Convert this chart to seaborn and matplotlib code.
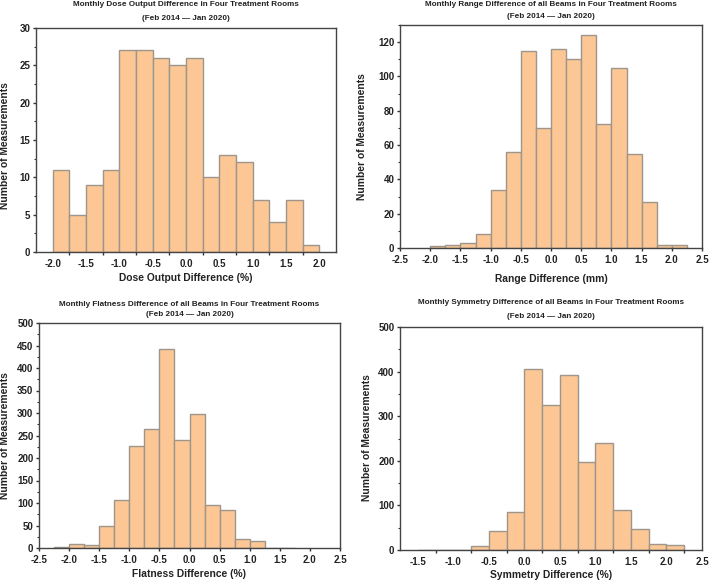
import numpy as np
import pandas as pd
import matplotlib.pyplot as plt
import seaborn as sns
from matplotlib.ticker import MultipleLocator, FormatStrFormatter, FixedLocator

# bin left edges (width 0.25) and counts
dose_left = [-2.0, -1.75, -1.5, -1.25, -1.0, -0.75, -0.5, -0.25, 0.0, 0.25, 0.5, 0.75, 1.0, 1.25, 1.5, 1.75]
dose_counts = [11, 5, 9, 11, 27, 27, 26, 25, 26, 10, 13, 12, 7, 4, 7, 1]

range_left = [-2.0, -1.75, -1.5, -1.25, -1.0, -0.75, -0.5, -0.25, 0.0, 0.25, 0.5, 0.75, 1.0, 1.25, 1.5, 1.75, 2.0]
range_counts = [1, 2, 3, 8, 34, 56, 115, 70, 116, 110, 124, 72, 105, 55, 27, 2, 2]

flat_left = [-2.25, -2.0, -1.75, -1.5, -1.25, -1.0, -0.75, -0.5, -0.25, 0.0, 0.25, 0.5, 0.75, 1.0, 1.25, 1.5]
flat_counts = [2, 10, 7, 48, 106, 227, 265, 443, 240, 298, 95, 84, 19, 16, 1, 1]

sym_left = [-1.5, -1.25, -1.0, -0.75, -0.5, -0.25, 0.0, 0.25, 0.5, 0.75, 1.0, 1.25, 1.5, 1.75, 2.0]
sym_counts = [1, 0, 1, 10, 43, 86, 406, 324, 393, 197, 241, 90, 48, 14, 12]

WIDTH = 0.25
FILL = "#FCC794"
EDGE = "#9E958C"
TXT = "#222222"

sns.set_theme(style="white")
plt.rcParams['font.family'] = ['Liberation Sans', 'DejaVu Sans']
plt.rcParams['font.weight'] = 'bold'

fig = plt.figure(figsize=(7.09, 5.82), dpi=100)
W, H = 709, 582


def make_ax(l, t, r, b):
    return fig.add_axes([l / W, 1 - b / H, (r - l) / W, (b - t) / H])


# shifted=True: tick marks sit between the labels (as in the original figure)
panels = [
    dict(left=dose_left, counts=dose_counts, box=(36, 28, 336, 252),
         title="Monthly Dose Output Difference in Four Treatment Rooms",
         xlabel="Dose Output Difference (%)", xlim=(-2.25, 2.25), ylim=(0, 30),
         ymaj=5, ymin=2.5, xticks=np.arange(-2.0, 2.01, 0.5), shifted=True,
         title_y=(5, 18), xl_y=278, yl=(5, 146)),
    dict(left=range_left, counts=range_counts, box=(400, 25, 702, 248),
         title="Monthly Range Difference of all Beams in Four Treatment Rooms",
         xlabel="Range Difference (mm)", xlim=(-2.5, 2.5), ylim=(0, 130),
         ymaj=20, ymin=10, xticks=np.arange(-2.5, 2.51, 0.5), shifted=False,
         title_y=(4, 16), xl_y=279, yl=(362, 137)),
    dict(left=flat_left, counts=flat_counts, box=(39, 323, 340, 548),
         title="Monthly Flatness Difference of all Beams in Four Treatment Rooms",
         xlabel="Flatness Difference (%)", xlim=(-2.5, 2.5), ylim=(0, 500),
         ymaj=50, ymin=25, xticks=np.arange(-2.5, 2.51, 0.5), shifted=False,
         title_y=(304, 315), xl_y=574, yl=(5, 436)),
    dict(left=sym_left, counts=sym_counts, box=(400, 327, 702, 550),
         title="Monthly Symmetry Difference of all Beams in Four Treatment Rooms",
         xlabel="Symmetry Difference (%)", xlim=(-1.75, 2.5), ylim=(0, 500),
         ymaj=100, ymin=50, xticks=np.arange(-1.5, 2.51, 0.5), shifted=True,
         title_y=(303, 317), xl_y=575, yl=(367, 438)),
]

for p in panels:
    ax = make_ax(*p["box"])
    left = np.array(p["left"])
    df = pd.DataFrame({"x": left + WIDTH / 2, "n": p["counts"]})
    edges = list(left) + [left[-1] + WIDTH]
    sns.histplot(data=df, x="x", weights="n", bins=edges, ax=ax,
                 color=FILL, edgecolor=EDGE, linewidth=1.0, alpha=1.0)
    ax.set_xlim(*p["xlim"])
    ax.set_ylim(*p["ylim"])
    ax.set_xticks(p["xticks"])
    ax.xaxis.set_major_formatter(FormatStrFormatter("%.1f"))
    ax.yaxis.set_major_locator(MultipleLocator(p["ymaj"]))
    ax.yaxis.set_minor_locator(MultipleLocator(p["ymin"]))
    ax.tick_params(axis="both", which="major", direction="out", length=2.5, width=1,
                   labelsize=7, color="#333333", labelcolor=TXT, left=True, bottom=True)
    ax.tick_params(axis="x", which="major", pad=2.5)
    ax.tick_params(axis="y", which="major", pad=1.5)
    ax.tick_params(axis="y", which="minor", direction="out", length=1.5, width=0.8,
                   left=True, color="#333333")
    if p["shifted"]:
        mids = np.array(p["xticks"][:-1]) + 0.25
        ax.xaxis.set_minor_locator(FixedLocator(mids))
        ax.tick_params(axis="x", which="major", length=0, pad=5)
        ax.tick_params(axis="x", which="minor", direction="out", length=2.5, width=1,
                       bottom=True, color="#333333")
    for lbl in ax.get_xticklabels() + ax.get_yticklabels():
        lbl.set_fontweight("bold")
    for s in ax.spines.values():
        s.set_color("#444444")
        s.set_linewidth(1.0)
    ax.set_xlabel("")
    ax.set_ylabel("")

    l, t, r, b = p["box"]
    cx = (l + r) / 2 / W
    fig.text(cx, 1 - p["title_y"][0] / H, p["title"], ha="center", va="center",
             fontsize=5.9, fontweight="bold", color=TXT)
    fig.text(cx, 1 - p["title_y"][1] / H, "(Feb 2014 \u2014 Jan 2020)", ha="center",
             va="center", fontsize=5.9, fontweight="bold", color=TXT)
    fig.text(cx, 1 - p["xl_y"] / H, p["xlabel"], ha="center", va="center",
             fontsize=7.4, fontweight="bold", color=TXT)
    fig.text(p["yl"][0] / W, 1 - p["yl"][1] / H, "Number of Measurements",
             rotation=90, ha="center", va="center", fontsize=7.4,
             fontweight="bold", color=TXT)

fig.savefig("out.png", dpi=100)
